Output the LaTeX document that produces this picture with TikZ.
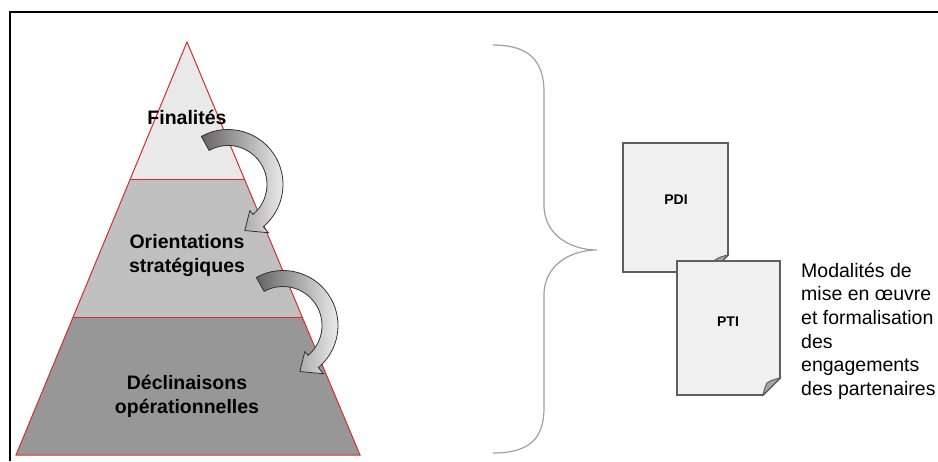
\documentclass[tikz,border=0pt]{standalone}
\usepackage{fontspec}
\setmainfont{Liberation Sans}
\usetikzlibrary{calc}
\definecolor{pyrred}{RGB}{212,45,45}
\definecolor{laytop}{RGB}{233,233,233}
\definecolor{laymid}{RGB}{192,192,192}
\definecolor{laybot}{RGB}{151,151,151}
\definecolor{arrdark}{RGB}{100,100,100}
\definecolor{arrlight}{RGB}{244,244,244}
\definecolor{pageedge}{RGB}{95,95,95}
\definecolor{pagefill}{RGB}{240,240,240}
\definecolor{bracegray}{RGB}{160,160,160}
\newcommand{\bentarrow}[1]{%
  \draw[arrowshape] ($(#1)+(-119:55)$) arc[start angle=-119, end angle=50, radius=55]
    -- ($(#1)+(50:63)$) -- ($(#1)+(70:49)$) -- ($(#1)+(50:34)$) -- ($(#1)+(50:39)$)
    arc[start angle=50, end angle=-119, radius=39] -- cycle;}
\newcommand{\docpage}[4]{%
  \draw[pageshape] (#1,#2) -- (#3,#2) -- (#3,#4-17) -- (#3-17,#4) -- (#1,#4) -- cycle;
  \draw[foldshape] (#3,#4-17) -- (#3-17,#4) .. controls (#3-15,#4-8) .. (#3-13,#4-12)
    .. controls (#3-8,#4-15) .. cycle;}
\begin{document}
\begin{tikzpicture}[x=1pt,y=-1pt,
  pyrtext/.style={font=\fontsize{19.5}{24}\selectfont\bfseries, align=center, inner sep=0pt},
  redline/.style={draw=pyrred, line width=1pt, line join=miter},
  arrowshape/.style={left color=arrdark, right color=arrlight, draw=black!80, line width=0.8pt, line join=miter},
  pageshape/.style={draw=pageedge, fill=pagefill, line width=1.8pt, line join=miter},
  foldshape/.style={draw=pageedge, fill=black!35, line width=1pt},
  doctext/.style={font=\fontsize{14}{16}\selectfont\bfseries, inner sep=0pt},
  sidetext/.style={font=\fontsize{19.5}{23.7}\selectfont, align=left, inner sep=0pt, anchor=north west}]
\useasboundingbox (0,0) rectangle (938,461);
% frame
\draw[line width=2pt] (938,12) -- (10,12) -- (10,461);
% pyramid
\coordinate (A) at (187,42);
\coordinate (L1) at (130.3,179);
\coordinate (R1) at (244.4,179);
\coordinate (L2) at (73,317);
\coordinate (R2) at (302,317);
\coordinate (BL) at (16,455);
\coordinate (BR) at (360,455);
\fill[laytop] (A) -- (R1) -- (L1) -- cycle;
\fill[laymid] (L1) -- (R1) -- (R2) -- (L2) -- cycle;
\fill[laybot] (L2) -- (R2) -- (BR) -- (BL) -- cycle;
\draw[redline] (A) -- (BR) -- (BL) -- cycle;
\draw[redline] (L1) -- (R1);
\draw[redline] (L2) -- (R2);
\node[pyrtext] (fin) at (187,117) {Finalités};
\node[pyrtext] (ori) at (187,255) {Orientations\\stratégiques};
\node[pyrtext] (dec) at (187,396.5) {Déclinaisons\\opérationnelles};
% curved arrows
\coordinate (c1) at (228,184.5);
\coordinate (c2) at (283,325.5);
\bentarrow{c1}
\bentarrow{c2}
% brace
\draw[bracegray, line width=1.2pt] (493,45) .. controls (530,45) and (544,62) .. (544,92)
  -- (544,205) .. controls (544,236) and (572,250) .. (597,250)
  .. controls (572,250) and (544,264) .. (544,295)
  -- (544,408) .. controls (544,438) and (530,453) .. (493,453);
% documents
\docpage{623}{143}{728}{272}
\node[doctext] (pdi) at (676,200) {PDI};
\docpage{677}{261}{780}{395}
\node[doctext] (pti) at (728,322) {PTI};
% side text
\node[sidetext] (mod) at (801,262.5) {Modalités de\\mise en œuvre\\et formalisation\\des\\engagements\\des partenaires};
\end{tikzpicture}
\end{document}
